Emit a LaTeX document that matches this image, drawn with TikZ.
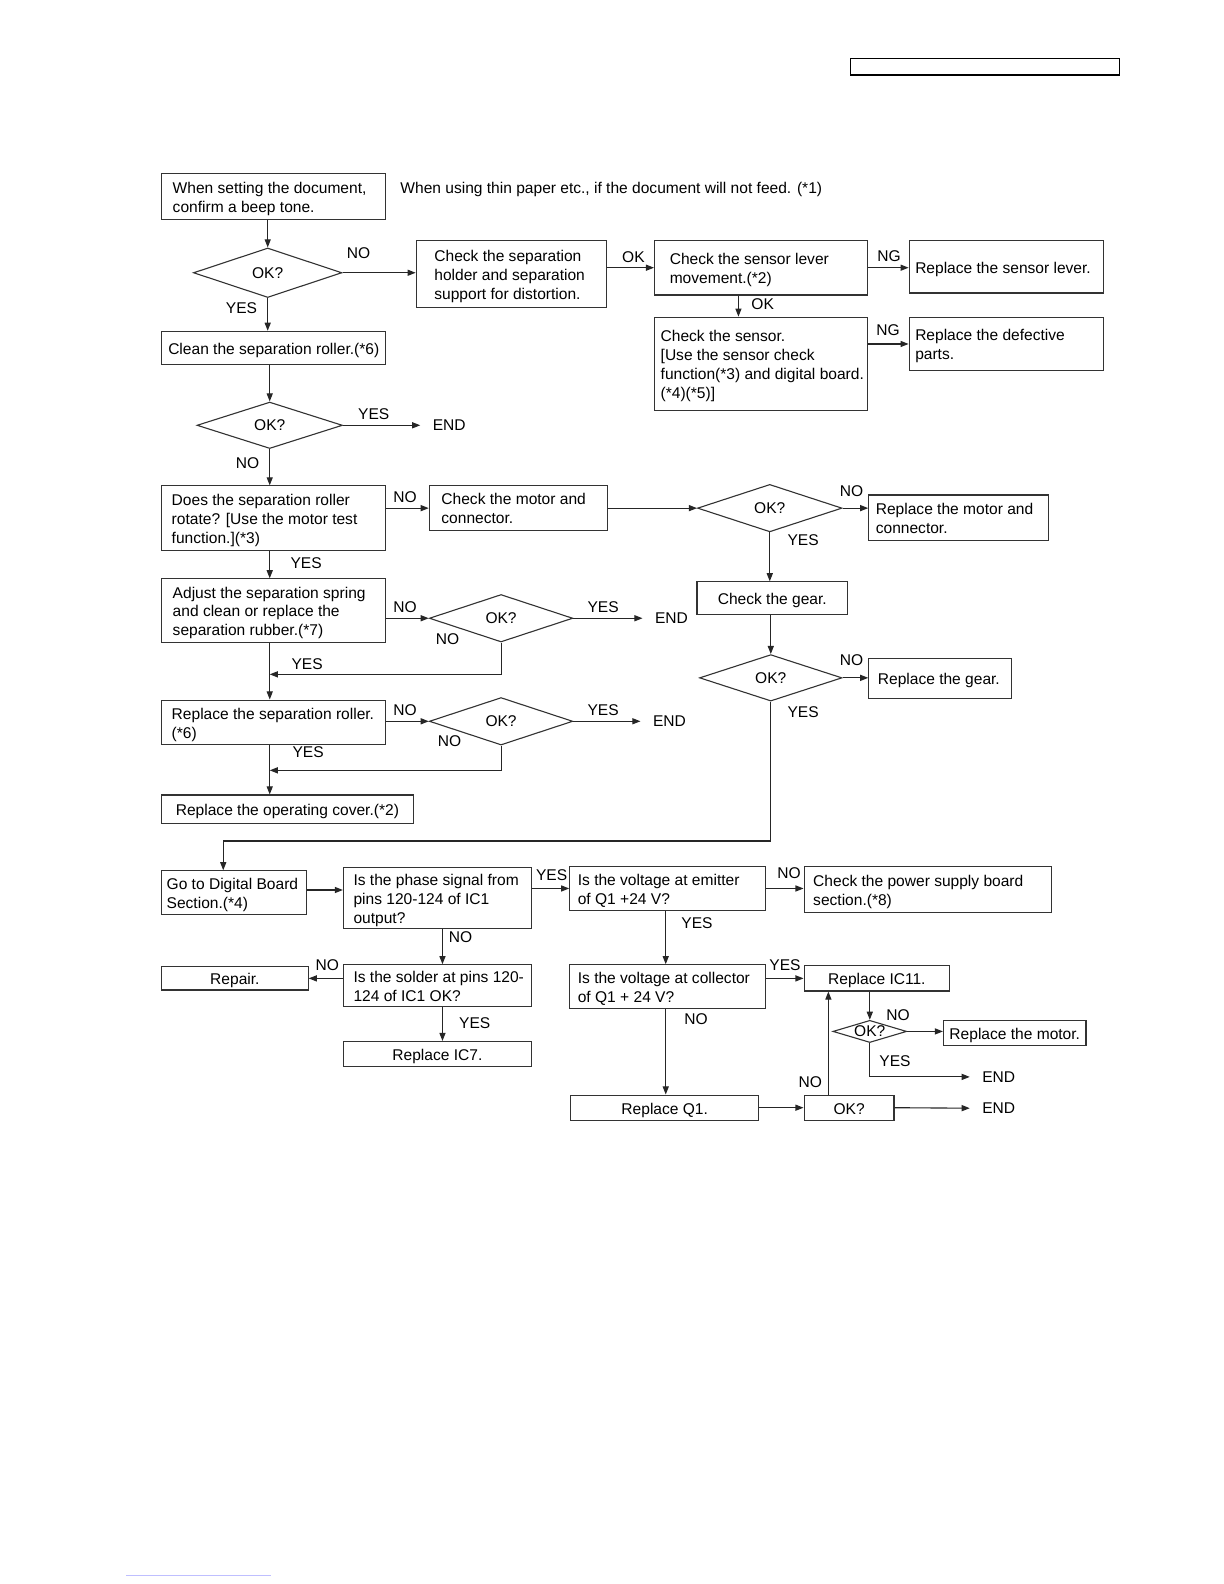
\documentclass[tikz,border=0pt]{standalone}
\usepackage{fontspec}
\setmainfont{Liberation Sans}
\usetikzlibrary{arrows.meta,shapes.geometric,calc}
\tikzset{
  txt/.style={font=\fontsize{7.7}{9.4}\selectfont},
  box/.style={draw=black!80, line width=0.55pt, rectangle, inner ysep=0pt, txt},
  dia/.style={draw=black!80, line width=0.55pt, diamond, shape aspect=3, inner sep=0pt, txt},
  lab/.style={txt, inner sep=0pt},
  endn/.style={txt, inner xsep=6pt, inner ysep=0pt, anchor=west},
  arr/.style={draw=black!85, line width=0.55pt, -{Triangle[length=4pt,width=3pt]}},
}
\newcommand\bx[8][l]{%
  \pgfmathsetmacro\bcx{(#3+#5)/2}%
  \pgfmathsetmacro\bcy{(#4+#6)/2}%
  \pgfmathsetmacro\bww{(#5-#3)/2}%
  \pgfmathsetmacro\bhh{(#6-#4)/2}%
  \pgfmathsetmacro\btw{(#5-#3)/2-#7}%
  \pgfmathsetmacro\bpad{#7/2}%
  \node[box, minimum width=\bww pt, minimum height=\bhh pt, inner xsep=\bpad pt] (#2) at (\bcx,\bcy) {\raisebox{-1.25pt}[\height][\depth]{\makebox[\btw pt][#1]{\begin{tabular}{@{}l@{}}#8\end{tabular}}}};%
}
\newcommand\dm[5]{%
  \pgfmathsetmacro\dw{#4/2}\pgfmathsetmacro\dh{#5/2}%
  \node[dia, minimum width=\dw pt, minimum height=\dh pt] (#1) at (#2,#3) {OK?};%
}
\begin{document}
\begin{tikzpicture}[x=0.5pt,y=-0.5pt]
\useasboundingbox (0,0) rectangle (1211,1568);
% header box
\node[draw, line width=0.8pt, minimum width=133pt, minimum height=8pt, inner sep=0pt] (hdr) at (975,66) {};
% ---- top section
\bx{A}{160}{172}{382}{217}{11}{When setting the document,\\confirm a beep tone.}
\node[lab, anchor=west] (note) at (396,188) {When using thin paper etc., if the document will not feed. (*1)};
\dm{D1}{265}{270}{147}{49}
\bx{B}{412}{238}{600}{304}{18}{Check the separation\\holder and separation\\support for distortion.}
\bx[c]{C}{160}{328}{382}{361}{6}{Clean the separation roller.(*6)}
\bx{E}{648}{238}{859}{292}{15}{Check the sensor lever\\movement.(*2)}
\bx{F}{900}{238}{1092}{290}{6}{Replace the sensor lever.}
\bx{G}{648}{314}{859}{406}{6}{Check the sensor.\\{[}Use the sensor check\\function(*3) and digital board.\\(*4)(*5)]}
\bx{H}{900}{314}{1092}{367}{6}{Replace the defective\\parts.}
\dm{D2}{267}{421}{144}{46}
\node[endn] (e1) at (416,421) {END};
% ---- middle section
\bx{I}{160}{481}{382}{545}{10}{Does the separation roller\\rotate? [Use the motor test\\function.](*3)}
\bx{J}{425}{481}{601}{525}{12}{Check the motor and\\connector.}
\dm{D3}{762}{503}{143}{47}
\bx{K}{860}{490}{1038}{535}{7}{Replace the motor and\\connector.}
\bx[c]{L}{690}{576}{839}{608}{6}{Check the gear.}
\dm{D4}{763}{671}{141}{46}
\bx{M}{860}{652}{1001}{691}{9}{Replace the gear.}
\bx{O}{160}{573}{382}{636}{11}{Adjust the separation spring\\and clean or replace the\\separation rubber.(*7)}
\dm{D5}{496}{612}{142}{47}
\node[endn] (e2) at (636,612) {END};
\bx{P}{160}{693}{382}{737}{10}{Replace the separation roller.\\(*6)}
\dm{D6}{496}{714}{142}{47}
\node[endn] (e3) at (634,714) {END};
\bx[c]{Q}{160}{787}{409}{815}{8}{Replace the operating cover.(*2)}
% ---- bottom section
\bx{N}{160}{862}{303}{905}{5}{Go to Digital Board\\Section.(*4)}
\bx{R}{340}{859}{526}{919}{10}{Is the phase signal from\\pins 120-124 of IC1\\output?}
\bx{S}{564}{858}{758}{901}{8}{Is the voltage at emitter\\of Q1 +24 V?}
\bx{T}{796}{858}{1041}{903}{9}{Check the power supply board\\section.(*8)}
\bx{U}{340}{955}{526}{996}{10}{Is the solder at pins 120-\\124 of IC1 OK?}
\bx[c]{V}{160}{957}{305}{980}{6}{Repair.}
\bx[c]{W}{340}{1031}{526}{1056}{6}{Replace IC7.}
\bx{X}{564}{955}{758}{998}{8}{Is the voltage at collector\\of Q1 + 24 V?}
\bx[c]{Y}{796}{956}{940}{981}{6}{Replace IC11.}
\dm{D7}{861}{1021}{73}{22}
\bx[c]{Z}{934}{1010}{1075}{1035}{4}{Replace the motor.}
\node[endn] (e4) at (960,1066) {END};
\bx[c]{AA}{565}{1084}{751}{1109}{6}{Replace Q1.}
\bx[c]{AB}{796}{1084}{885}{1109}{6}{OK?}
\node[endn] (e5) at (960,1097) {END};
% ---- connectors top
\draw[arr] (D1.north |- A.south) -- (D1.north);
\draw[arr] (D1.east) -- (D1.east -| B.west);
\draw[arr] (D1.south) -- (D1.south |- C.north);
\draw[arr] (B.east |- E.west) -- (E.west);
\draw[arr] (E.east) -- (E.east -| F.west);
\draw[arr] ([xshift=-11.25pt]E.south) -- ([xshift=-11.25pt]E.south |- G.north);
\draw[arr] (H.west -| G.east) -- (H.west);
\draw[arr] (D2.north |- C.south) -- (D2.north);
\draw[arr] (D2.east) -- (e1.west);
\draw[arr] (D2.south) -- (D2.south |- I.north);
\node[lab] (l1) at (355,251) {NO};
\node[lab] (l2) at (239,305) {YES};
\node[lab] (l3) at (627,255) {OK};
\node[lab] (l4) at (880,254) {NG};
\node[lab] (l5) at (755,301) {OK};
\node[lab] (l6) at (879,327) {NG};
\node[lab] (l7) at (370,410) {YES};
\node[lab] (l8) at (245,458) {NO};
% ---- connectors middle
\draw[arr] (J.west -| I.east) -- (J.west);
\draw[arr] (J.east) -- (D3.west);
\draw[arr] (D3.east) -- (D3.east -| K.west);
\draw[arr] (D3.south) -- (D3.south |- L.north);
\draw[arr] (L.south -| D4.north) -- (D4.north);
\draw[arr] (D4.east) -- (D4.east -| M.west);
\draw[arr] (D4.south) -- ++(0,138) -| ([xshift=-5.25pt]N.north);
\draw[arr] ([xshift=-2pt]I.south) -- ([xshift=-2pt]O.north);
\draw[arr] (D5.west -| O.east) -- (D5.west);
\draw[arr] (D5.east) -- (e2.west);
\draw[arr] (D5.south) |- ($(O.south)+(-4,31)$);
\draw[arr] ([xshift=-2pt]O.south) -- ([xshift=-2pt]P.north);
\draw[arr] (D6.west -| P.east) -- (D6.west);
\draw[arr] (D6.east) -- (e3.west);
\draw[arr] (D6.south) |- ($(P.south)+(-4,25)$);
\draw[arr] ([xshift=-2pt]P.south) -- ([xshift=-2pt]P.south |- Q.north);
\node[lab] (l9) at (401,492) {NO};
\node[lab] (l10) at (843,486) {NO};
\node[lab] (l11) at (795,535) {YES};
\node[lab] (l12) at (843,653) {NO};
\node[lab] (l13) at (795,705) {YES};
\node[lab] (l14) at (303,557) {YES};
\node[lab] (l15) at (401,601) {NO};
\node[lab] (l16) at (597,601) {YES};
\node[lab] (l17) at (443,633) {NO};
\node[lab] (l18) at (304,657) {YES};
\node[lab] (l19) at (401,703) {NO};
\node[lab] (l20) at (597,703) {YES};
\node[lab] (l21) at (445,734) {NO};
\node[lab] (l22) at (305,745) {YES};
% ---- connectors bottom
\draw[arr] (N.east |- 0,881) -- (R.west |- 0,881);
\draw[arr] (S.west -| R.east) -- (S.west);
\draw[arr] (S.east) -- (S.east -| T.west);
\draw[arr] ([xshift=2.5pt]R.south) -- ([xshift=2.5pt]R.south |- U.north);
\draw[arr] (V.east -| U.west) -- (V.east);
\draw[arr] ([xshift=2.5pt]U.south) -- ([xshift=2.5pt]U.south |- W.north);
\draw[arr] ([xshift=-1pt]S.south) -- ([xshift=-1pt]S.south |- X.north);
\draw[arr] (Y.west -| X.east) -- (Y.west);
\draw[arr] (D7.north |- Y.south) -- (D7.north);
\draw[arr] (D7.east) -- (D7.east -| Z.west);
\draw[arr] (D7.south) |- (e4.west);
\draw[arr] ([xshift=-1pt]X.south) -- ([xshift=-1pt]X.south |- AA.north);
\draw[arr] (AA.east) -- (AA.east -| AB.west);
\draw[arr] (AB.east) -- (e5.west);
\draw[arr] ([xshift=-10.25pt]AB.north) -- ([xshift=-10.25pt]AB.north |- Y.south);
\node[lab] (l23) at (546,866) {YES};
\node[lab] (l24) at (781,864) {NO};
\node[lab] (l25) at (456,928) {NO};
\node[lab] (l26) at (324,955) {NO};
\node[lab] (l27) at (470,1013) {YES};
\node[lab] (l28) at (690,914) {YES};
\node[lab] (l29) at (777,955) {YES};
\node[lab] (l30) at (889,1005) {NO};
\node[lab] (l31) at (886,1050) {YES};
\node[lab] (l32) at (689,1009) {NO};
\node[lab] (l33) at (802,1071) {NO};
% faint link underline at the bottom
\draw[blue!25, line width=0.5pt] (125,1560) -- (268,1560);
\end{tikzpicture}
\end{document}
